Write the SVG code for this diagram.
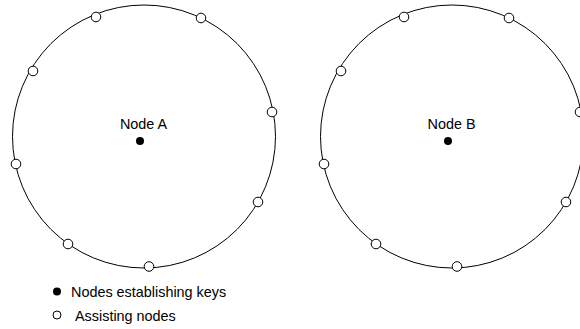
<svg xmlns="http://www.w3.org/2000/svg" width="580" height="329" viewBox="0 0 580 329">
  <style>
    .ring { fill: none; stroke: #000; stroke-width: 1; }
    .assist { fill: #fff; stroke: #000; stroke-width: 1; }
    .key { fill: #000; }
    .label { font-family: "Liberation Sans", Arial, sans-serif; font-size: 14.4px; fill: #000; }
  </style>
  <rect width="580" height="329" fill="#fff"/>

  <!-- Neighbourhood of node A -->
  <g id="ring-a">
    <circle class="ring" cx="144" cy="136.5" r="131.5"/>
    <circle class="assist" cx="96" cy="17" r="4.8"/>
    <circle class="assist" cx="201" cy="18" r="4.8"/>
    <circle class="assist" cx="33" cy="71" r="4.8"/>
    <circle class="assist" cx="272" cy="112" r="4.8"/>
    <circle class="assist" cx="16" cy="164" r="4.8"/>
    <circle class="assist" cx="258" cy="202" r="4.8"/>
    <circle class="assist" cx="68" cy="244" r="4.8"/>
    <circle class="assist" cx="149" cy="266.5" r="4.8"/>
  </g>
  <g id="node-a">
    <text class="label" x="143.5" y="129" text-anchor="middle">Node A</text>
    <circle class="key" cx="140" cy="141" r="4"/>
  </g>

  <!-- Neighbourhood of node B -->
  <g id="ring-b">
    <circle class="ring" cx="452" cy="136.5" r="131.5"/>
    <circle class="assist" cx="404" cy="17" r="4.8"/>
    <circle class="assist" cx="509" cy="18" r="4.8"/>
    <circle class="assist" cx="341" cy="71" r="4.8"/>
    <circle class="assist" cx="580" cy="112" r="4.8"/>
    <circle class="assist" cx="324" cy="164" r="4.8"/>
    <circle class="assist" cx="566" cy="202" r="4.8"/>
    <circle class="assist" cx="376" cy="244" r="4.8"/>
    <circle class="assist" cx="457" cy="266.5" r="4.8"/>
  </g>
  <g id="node-b">
    <text class="label" x="451.5" y="129" text-anchor="middle">Node B</text>
    <circle class="key" cx="448" cy="141" r="4"/>
  </g>

  <g id="connectors"></g>

  <!-- Legend -->
  <g id="legend">
    <circle class="key" cx="57" cy="291.5" r="4"/>
    <text class="label" x="71" y="296.5">Nodes establishing keys</text>
    <circle class="assist" cx="57" cy="315" r="4"/>
    <text class="label" x="75" y="320.5">Assisting nodes</text>
  </g>
</svg>
